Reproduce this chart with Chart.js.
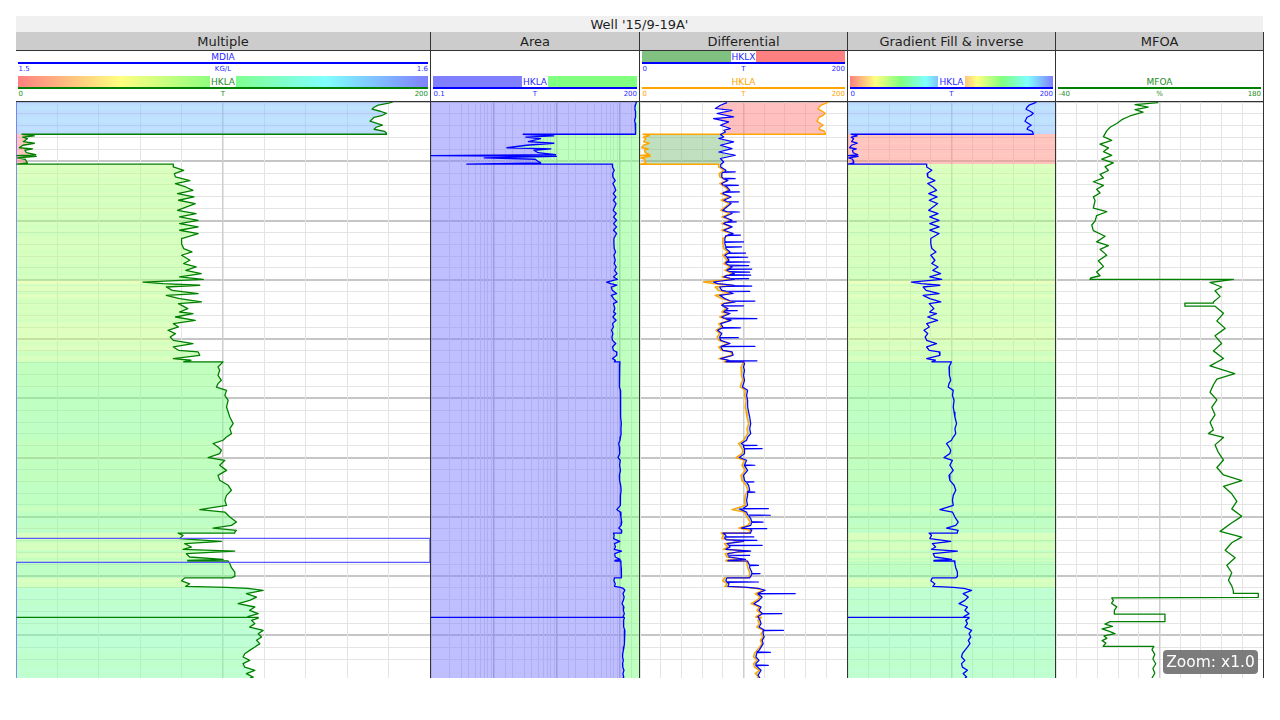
<!DOCTYPE html>
<html>
<head>
<meta charset="utf-8">
<script src="https://cdn.jsdelivr.net/npm/chart.js@4.4.1/dist/chart.umd.min.js"></script>
<style>
html,body{margin:0;padding:0;background:#fff;}
body{width:1280px;height:720px;position:relative;overflow:hidden;font-family:"DejaVu Sans",sans-serif;}
canvas{position:absolute;}
</style>
</head>
<body>
<script>
// ---------------- DATA ----------------
const WELL_TITLE = "Well '15/9-19A'";
const TRACK_TITLES = ['Multiple', 'Area', 'Differential', 'Gradient Fill & inverse', 'MFOA'];

const DEPTH_MIN = 3350, DEPTH_MAX = 3836;   // metres, top / bottom of the log
const DEPTH_MINOR = 10, DEPTH_MAJOR = 50;   // grid spacing

const HKLA_RANGE = [0, 200], HKLA_UNIT = 'T';
const HKLA_LOG_RANGE = [0.1, 200];
const HKLX_RANGE = [0, 200], HKLX_UNIT = 'T';
const MDIA_RANGE = [1.5, 1.6], MDIA_UNIT = 'KG/L';
const MFOA_RANGE = [-40, 180], MFOA_UNIT = '%';

const hklaDepth = [
 3350.0,3351.0,3352.7,3354.4,3356.1,3357.8,3359.5,3361.2,3362.9,3364.6,
 3366.2,3367.9,3369.6,3371.3,3373.0,3374.7,3376.4,3377.2,3377.2,
 3378.5,3379.7,3381.0,3383.5,3384.8,3386.5,3388.6,3389.5,3390.7,3392.8,
 3394.5,3395.2,3395.8,3397.2,3398.3,3400.0,3401.4,3402.5,3402.5,
 3404.8,3407.6,3410.4,3413.2,3416.3,3418.8,3421.7,3424.5,3427.3,3430.1,
 3432.9,3435.7,3441.4,3444.1,3447.0,3449.8,3452.6,3455.4,3458.2,3461.0,
 3465.2,3469.5,3473.7,3476.5,3479.3,3483.5,3486.3,3489.2,3492.0,3494.8,
 3497.6,3499.6,3501.9,3503.2,3504.6,3506.1,3508.9,3511.6,3513.1,3515.9,
 3518.7,3520.1,3524.3,3527.2,3528.5,3531.4,3534.2,3537.0,3539.8,3542.6,
 3545.4,3548.3,3551.1,3553.8,3556.7,3559.5,3560.9,3563.7,3566.5,3567.9,
 3569.2,3569.2,
 3570.7,3573.6,3576.4,3580.6,3584.8,3587.6,3590.5,3593.3,3597.5,3601.7,
 3607.3,3611.6,3615.8,3621.4,3625.6,3629.8,3632.7,3635.4,3638.2,3641.1,
 3643.9,3646.7,3650.0,3652.3,3656.5,3660.8,3665.0,3669.2,3673.4,3677.6,
 3681.9,3686.1,3690.3,3693.9,3696.0,3700.2,3704.4,3707.2,3709.5,3711.4,
 3712.8,3713.7,3713.7,
 3715.6,3718.4,3720.7,3722.6,3725.5,3727.4,3728.9,3731.1,3733.9,3735.9,
 3736.7,3737.3,3737.3,
 3739.5,3742.9,3746.6,3750.3,3751.5,3751.5,3754.0,3756.5,3758.7,3759.5,3760.3,
 3762.0,3764.8,3767.7,3770.5,3773.3,3776.1,3778.9,3781.7,3784.2,3784.8,
 3784.8,3784.8,3785.4,3787.4,3790.1,3793.0,3795.8,3798.6,3801.4,3804.2,
 3807.0,3809.9,3812.7,3815.5,3818.3,3821.1,3823.9,3826.8,3829.5,3832.3,
 3835.2,3836.0
];
const hklaValue = [
 182,180,175,173,172,176,179,177,173,172,
 171,174,177,174,173,178,179,179,2.9,
 8.9,3.2,5.5,3.5,8.9,3.3,1.6,8,4.3,5,
 9.5,0.1,9.8,0.7,4.5,5,5.5,0.37,76,
 76,81,76.5,77,84,77,82,85.5,78,86,
 78.5,86.6,78,87,79,88,79,88,79,88,
 80,80,81,85,80,84,81,87,82,89.5,
 79,90.5,61.3,71,88.8,72.6,75.5,88,72.6,79,
 89.6,78.5,83,79,85.5,77,86.6,76,78.5,73.4,
 77,74.5,76,85.5,76,78.5,88,88.8,76,84.5,
 81,100,
 99.2,97.6,98.4,97.6,99.2,97.6,96.8,101.7,100.9,102.5,
 101.7,102.5,103.3,104.9,103.3,104.1,101.7,100,95.2,97.6,
 99.2,98.4,92.8,100.9,98.4,101.7,97.6,98.4,102.5,104.1,
 101.7,100.9,101.7,88.8,100.9,103.3,106.5,104.1,95.2,106.5,
 105.7,105.7,78.3,
 80.7,79.1,99.2,81.5,84.7,80.7,105.7,82.3,83.9,100,
 83,83,102.5,
 103.3,104.1,105.7,105.7,104.1,81.5,80,83.9,82,101.7,112,
 119.4,111.3,116.2,112.9,107.3,115.4,112.9,117,112,112,
 null,117,117,113.8,115.4,112.9,119.4,117,118.6,116.2,
 117.8,115.4,112.9,110.5,109.7,112.9,109.7,110.5,115.4,111.3,
 114.6,113
];

const hklxDepth = [
 3350.5,3352.7,3355.5,3357.0,3359.7,3362.6,3364.0,3366.8,3369.6,3372.4,
 3373.8,3375.3,3377.5,3379.5,3380.8,3383.7,3386.5,3389.3,3392.2,3394.9,
 3397.7,3400.6,3402.8,
 3404.8,3407.6,3408.7,3409.0,3409.3,3410.4,3413.2,3414.3,3414.6,3414.9,
 3416.3,3418.8,3420.0,3420.3,3420.6,3421.7,3424.5,3425.6,3425.9,3426.2,
 3427.3,3430.1,3432.9,3434.0,3434.3,3434.6,3435.7,3441.4,3442.5,3442.8,
 3443.1,3444.1,3447.0,3449.8,3450.9,3451.2,3451.5,3452.6,3455.4,3458.2,
 3461.0,3462.1,3462.4,3462.7,3465.2,3467.8,3468.1,3468.4,3469.5,3472.0,
 3472.3,3472.6,3473.7,3476.5,3477.2,3477.5,3477.8,3479.3,3480.7,3481.0,
 3481.3,3483.5,3484.7,3485.0,3485.3,3486.3,3487.7,3488.0,3488.3,3489.2,
 3490.7,3491.0,3491.3,3492.0,3493.2,3493.5,3493.8,3494.8,3495.7,3496.0,
 3496.3,3497.6,3498.7,3499.0,3499.3,3499.6,3501.9,3503.2,3504.6,3505.0,
 3505.3,3505.6,3506.1,3508.9,3509.5,3509.8,3510.1,3511.6,3513.1,3515.9,
 3517.7,3518.0,3518.3,3518.7,3520.1,3521.7,3522.0,3522.3,3524.3,3525.7,
 3526.0,3526.3,3527.2,3528.5,3531.4,3532.4,3532.7,3533.0,3534.2,3537.0,
 3539.8,3540.2,3540.5,3540.8,3542.6,3545.4,3548.3,3548.5,3548.8,3549.1,
 3551.1,3553.8,3555.9,3556.2,3556.5,3559.5,3560.9,3563.7,3566.5,3567.9,
 3568.1,3568.4,3568.7,3569.2,3569.2,
 3570.7,3573.6,3576.4,3580.6,3584.8,3587.6,3590.5,3593.3,3597.5,3601.7,
 3607.3,3611.6,3615.8,3621.4,3625.6,3629.8,3632.7,3635.4,3638.2,3639.4,
 3639.7,3640.0,3641.1,3642.2,3642.5,3642.8,3643.9,3646.7,3650.0,3652.3,
 3656.2,3656.5,3656.8,3660.8,3665.0,3669.2,3670.3,3670.6,3670.9,3673.4,
 3677.6,3678.8,3679.1,3679.4,3681.9,3686.1,3690.3,3692.8,3693.1,3693.4,
 3696.0,3698.4,3698.7,3699.0,3700.2,3701.5,3704.1,3704.4,3704.7,3707.2,
 3709.5,3709.7,3710.0,3710.3,3711.4,3712.8,3713.7,3713.7,
 3715.6,3716.6,3716.9,3717.2,3718.4,3719.5,3719.8,3720.1,3720.7,3722.6,
 3723.8,3724.1,3724.4,3725.5,3727.4,3728.9,3729.5,3731.1,3732.2,3732.5,
 3732.8,3733.9,3735.9,3736.7,3737.3,3737.3,
 3739.5,3740.6,3740.9,3741.2,3742.9,3746.6,3747.6,3747.9,3748.2,3750.3,
 3751.5,3751.5,3754.0,3754.7,3755.0,3755.3,3756.5,3758.7,3759.5,3760.3,
 3762.0,3764.5,3764.8,3765.1,3767.7,3770.5,3773.3,3776.1,3778.9,3781.4,
 3781.7,3782.0,3784.2,3787.4,3790.1,3793.0,3795.5,3795.8,3796.1,3798.6,
 3801.4,3804.2,3807.0,3809.9,3812.7,3814.0,3814.3,3814.6,3818.3,3821.1,
 3823.9,3825.0,3825.3,3825.6,3829.5,3833.8,3836.0
];
const hklxValue = [
 84.1,77.7,72.8,88.9,74.4,90.5,71.1,85.7,77.7,87.3,
 80.9,82.5,77.7,80.9,76.1,90.5,77.7,88.9,76.1,92.2,
 77.7,80.9,78,
 78,83,82,92,80,79,79,80,92,81,
 85,79,80,95,82,84,87,83,96,81,
 80,88,81,84,95,86,88,80,84,96,
 87,89,81,89,85,93,83,81,89,81,
 90,85,97,83,82,82,100,82,82,83,
 98,83,83,87,86,102,85,82,84,104,
 84,86,84,106,83,83,86,105,87,89,
 86,108,85,84,87,106,89,91,87,107,
 84,81,87,105,90,91,71,75,91,89,
 108,84,77,79,83,106,85,90,77,82,
 87,111,89,92,81,79,100,80,85,83,
 94,82,81,87,79,81,113,83,88,78,
 80,80,97,79,75,79,77,77,95,77,
 78,87,79,111,78,80,89,90,78,86,
 86,113,84,83,100,
 101,100,101,100,101,100,99,104,103,104,
 104,105,106,107,106,107,104,103,98,100,
 113,100,100,101,118,101,101,101,96,103,
 101,111,101,104,100,101,102,110,103,105,
 106,104,111,104,104,103,104,100,124,96,
 103,104,126,105,106,107,108,119,108,107,
 98,100,122.5,106,108,107,107,80,
 83,83,110,82,82,84,113,90,100,84,
 86,118,86,87,83,107,95,85,85,106,
 86,86,102,85,85,104,
 105,106,114.5,106,106,108,108,116,108,107,
 106,84,83,84,114.5,84,86,85,104,114,
 121,114,150,114,118,115,110,117,115,118,
 137,118,114,116,117,115,120,138.6,119,119,
 120,118,119,117,115,113,126,113,112,115,
 112,112,124,112,117,114,116
];

const mdiaDepth = [3350, 3718.2, 3718.2, 3738.4, 3738.4, 3836];
const mdiaValue = [1.5, 1.5, 1.6, 1.6, 1.5, 1.5];

const mfoaDepth = [
 3350.6,3352.2,3354.4,3356.4,3358.6,3361.8,3364.9,3368.1,3371.3,3374.4,
 3379.2,3382.4,3385.6,3388.7,3391.9,3395.1,3398.2,3401.4,3404.6,3407.8,
 3411.0,3414.1,3417.3,3420.4,3423.6,3426.8,3430.0,3433.2,3439.5,3442.6,
 3445.8,3450.5,3453.8,3458.5,3463.3,3468.0,3471.2,3474.3,3479.2,3483.9,
 3488.7,3493.4,3496.6,3498.5,3499.7,3499.7,3502.3,3506.1,3509.3,3514.0,
 3518.8,3519.7,3519.7,3522.3,3522.3,3528.3,3534.7,3541.0,3547.3,3553.7,
 3560.0,3566.4,3572.7,3579.1,3583.8,3588.6,3594.9,3601.3,3607.6,3613.9,
 3620.3,3626.7,3629.8,3633.0,3639.3,3645.7,3652.1,3658.4,3664.7,3669.5,
 3674.3,3680.6,3686.9,3693.3,3699.6,3706.0,3712.3,3717.1,3721.9,3728.2,
 3734.5,3740.9,3747.2,3753.5,3758.3,3762.5,3764.6,3764.6,3767.9,3768.4,
 3770.5,3773.0,3776.0,3779.0,3782.1,3782.1,3788.4,3788.4,3790.5,3792.5,
 3794.5,3796.5,3798.5,3800.5,3802.5,3804.5,3806.5,3809.3,3809.3,3812.0,
 3816.0,3820.0,3824.0,3828.0,3832.0,3836.0
];
const mfoaValue = [
 68.7,44,58,44,52.5,38.6,30,24.5,17.5,13.9,
 10.4,19.2,6.8,15.7,10.4,19.2,8.6,20.9,12.2,15.7,
 6.8,10.4,-0.3,10.4,3.2,6.8,-0.3,1.5,-0.3,13.9,
 3.2,1.5,-2,-0.3,12.2,3.2,15.7,6.8,13.9,5,
 10.4,3.2,6.8,-3.2,-3.9,148.5,123.7,136,129,134.4,
 127.3,127.3,97,97,129,138,131,139.8,129,136,
 127.3,138,123.7,150,131,127.3,123.7,131,125.5,129,
 123.7,127.3,122,138,129,132.6,138,131,138,157.4,
 138,146.8,152.2,146.8,157.4,145,134.4,157.4,146.8,139.8,
 150.4,141.6,146.8,143.3,146.8,148.5,148.5,175,175,19.2,
 21,19,24.5,22,22,75.8,75.8,17.5,12,20,
 9,16,22.7,11,14,9,13,10,64,62,
 65,63,66,63,65,62
];

// ---------------- STYLE / LAYOUT ----------------
const TRACKS = [
  {left: 16,   right: 430},
  {left: 431,  right: 639},
  {left: 640,  right: 847},
  {left: 848,  right: 1055},
  {left: 1056, right: 1263}
];
const PLOT_TOP = 102, PLOT_H = 576;
const BLUE = '#0000ff', GREEN = '#008000', ORANGE = '#ffa500';
const TXT_BLUE = '#2a2aff', TXT_GREEN = '#1e8c1e';
const RAINBOW_STOPS = [0, 50, 100, 150, 200];
const RAINBOW_RGB = [[255,128,128],[255,255,128],[128,255,128],[128,255,255],[128,128,255]];
const RAINBOW_CSS = 'linear-gradient(to right,#ff8080 0%,#ffff80 25%,#80ff80 50%,#80ffff 75%,#8080ff 100%)';
const RAINBOW2_CSS = 'linear-gradient(to right,#ff8080 0%,#ffff80 12.5%,#80ff80 25%,#80ffff 37.5%,#8080ff 50%,#ff8080 50%,#ffff80 62.5%,#80ff80 75%,#80ffff 87.5%,#8080ff 100%)';

function rainbow(v, a) {
  v = Math.max(RAINBOW_STOPS[0], Math.min(RAINBOW_STOPS[RAINBOW_STOPS.length - 1], v));
  let i = 0;
  while (i < RAINBOW_STOPS.length - 2 && v > RAINBOW_STOPS[i + 1]) i++;
  const t = (v - RAINBOW_STOPS[i]) / (RAINBOW_STOPS[i + 1] - RAINBOW_STOPS[i]);
  const c = RAINBOW_RGB[i].map((c0, k) => Math.round(c0 + t * (RAINBOW_RGB[i + 1][k] - c0)));
  return 'rgba(' + c[0] + ',' + c[1] + ',' + c[2] + ',' + a + ')';
}

function points(depths, values, missing) {
  const out = [];
  for (let i = 0; i < depths.length; i++) {
    let v = values[i];
    if (v === null) { if (missing === undefined) continue; v = missing; }
    out.push({x: v, y: depths[i]});
  }
  return out;
}

function interp(depths, values, d) {
  let pd = null, pv = null;
  for (let i = 0; i < depths.length; i++) {
    if (values[i] === null) continue;
    if (depths[i] >= d) {
      if (pd === null || depths[i] === pd) return values[i];
      return pv + (d - pd) / (depths[i] - pd) * (values[i] - pv);
    }
    pd = depths[i]; pv = values[i];
  }
  return pv;
}

// vertical gradient whose colour at every sample depth is given by colorOf(value, depth)
function depthGradient(chart, depths, values, colorOf) {
  const area = chart.chartArea;
  if (!area) return 'rgba(0,0,0,0)';
  const ys = chart.scales.y;
  const h = area.bottom - area.top;
  const g = chart.ctx.createLinearGradient(0, area.top, 0, area.bottom);
  for (let i = 0; i < depths.length; i++) {
    if (values[i] === null) continue;
    let o = (ys.getPixelForValue(depths[i]) - area.top) / h;
    o = Math.min(1, Math.max(0, o));
    g.addColorStop(o, colorOf(values[i], depths[i]));
  }
  return g;
}

function isMultiple(v, step) { const r = v / step; return Math.abs(r - Math.round(r)) < 1e-6; }

function depthScale() {
  return {
    type: 'linear', reverse: true, min: DEPTH_MIN, max: DEPTH_MAX,
    border: {display: false},
    ticks: {display: false, stepSize: DEPTH_MINOR, maxTicksLimit: 1000},
    grid: {
      drawTicks: false,
      color: c => isMultiple(c.tick.value, DEPTH_MAJOR) ? '#c6c6c6' : '#e4e4e4',
      lineWidth: c => isMultiple(c.tick.value, DEPTH_MAJOR) ? 2 : 1
    }
  };
}
function linearScale(range) {
  const mid = (range[0] + range[1]) / 2;
  return {
    type: 'linear', position: 'top', min: range[0], max: range[1],
    border: {display: false},
    ticks: {display: false, stepSize: (range[1] - range[0]) / 10},
    grid: {
      drawTicks: false,
      color: c => Math.abs(c.tick.value - mid) < 1e-6 ? '#cdcdcd' : '#e4e4e4',
      lineWidth: c => Math.abs(c.tick.value - mid) < 1e-6 ? 1.5 : 1
    }
  };
}
function logScale(range) {
  return {
    type: 'logarithmic', position: 'top', min: range[0], max: range[1],
    border: {display: false},
    ticks: {display: false},
    grid: {
      drawTicks: false,
      color: c => { const l = Math.log10(c.tick.value); return Math.abs(l - Math.round(l)) < 1e-6 ? '#b9b9c9' : '#dcdce4'; },
      lineWidth: c => { const l = Math.log10(c.tick.value); return Math.abs(l - Math.round(l)) < 1e-6 ? 1.5 : 1; }
    }
  };
}

function el(css, text) {
  const e = document.createElement('div');
  e.style.cssText = 'position:absolute;box-sizing:border-box;' + css;
  if (text !== undefined) e.textContent = text;
  document.body.appendChild(e);
  return e;
}

function makeChart(trackIndex, scales, datasets) {
  const t = TRACKS[trackIndex];
  const cv = document.createElement('canvas');
  cv.width = t.right - t.left; cv.height = PLOT_H;
  cv.style.left = t.left + 'px'; cv.style.top = PLOT_TOP + 'px';
  document.body.appendChild(cv);
  return new Chart(cv, {
    type: 'line',
    data: {datasets},
    options: {
      responsive: false, animation: false, events: [], indexAxis: 'y',
      layout: {padding: 0},
      plugins: {legend: {display: false}, tooltip: {enabled: false}},
      elements: {point: {radius: 0, hoverRadius: 0}, line: {tension: 0, borderJoinStyle: 'round'}},
      scales: Object.assign({y: depthScale()}, scales)
    }
  });
}

// ---------------- TRACKS ----------------
// 1. Multiple
makeChart(0, {
  x: linearScale(HKLA_RANGE),
  x2: {type: 'linear', display: false, min: MDIA_RANGE[0], max: MDIA_RANGE[1]}
}, [
  {label: 'MDIA', xAxisID: 'x2', data: points(mdiaDepth, mdiaValue), borderColor: '#5a5aff', borderWidth: 1.3, fill: false},
  {label: 'HKLA', xAxisID: 'x', data: points(hklaDepth, hklaValue, HKLA_RANGE[0]), borderColor: GREEN, borderWidth: 1.3,
   fill: {value: HKLA_RANGE[0]},
   backgroundColor: c => depthGradient(c.chart, hklaDepth, hklaValue, v => rainbow(v, 0.5))}
]);

// 2. Area (log)
makeChart(1, {x: logScale(HKLA_LOG_RANGE)}, [
  {label: 'HKLA', data: points(hklaDepth, hklaValue, HKLA_LOG_RANGE[0]), borderColor: BLUE, borderWidth: 1.3,
   fill: {value: HKLA_LOG_RANGE[0]}, backgroundColor: 'rgba(128,128,255,0.5)'},
  {label: 'HKLA right', data: points(hklaDepth, hklaValue, HKLA_LOG_RANGE[0]), borderWidth: 0, borderColor: 'rgba(0,0,0,0)',
   fill: {value: HKLA_LOG_RANGE[1]}, backgroundColor: 'rgba(128,255,128,0.5)'}
]);

// 3. Differential
makeChart(2, {x: linearScale(HKLX_RANGE)}, [
  {label: 'HKLX', data: points(hklxDepth, hklxValue), borderColor: BLUE, borderWidth: 1.2, fill: false},
  {label: 'HKLA', data: points(hklaDepth, hklaValue), borderColor: ORANGE, borderWidth: 1.4, fill: '-1',
   backgroundColor: c => depthGradient(c.chart, hklaDepth, hklaValue,
     (v, d) => v > interp(hklxDepth, hklxValue, d) ? 'rgba(255,128,128,0.5)' : 'rgba(128,192,128,0.5)')}
]);

// 4. Gradient fill & inverse
makeChart(3, {x: linearScale(HKLA_RANGE)}, [
  {label: 'HKLA', data: points(hklaDepth, hklaValue, HKLA_RANGE[0]), borderColor: BLUE, borderWidth: 1.3,
   fill: {value: HKLA_RANGE[0]},
   backgroundColor: c => depthGradient(c.chart, hklaDepth, hklaValue, v => rainbow(v, 0.5))},
  {label: 'HKLA inverse', data: points(hklaDepth, hklaValue, HKLA_RANGE[0]), borderWidth: 0, borderColor: 'rgba(0,0,0,0)',
   fill: {value: HKLA_RANGE[1]},
   backgroundColor: c => depthGradient(c.chart, hklaDepth, hklaValue, v => rainbow(v, 0.5))}
]);

// 5. MFOA
makeChart(4, {x: linearScale(MFOA_RANGE)}, [
  {label: 'MFOA', data: points(mfoaDepth, mfoaValue), borderColor: GREEN, borderWidth: 1.3, fill: false}
]);

// ---------------- HEADER ----------------
el('left:16px;top:16px;width:1247px;height:16px;background:#f0f0f0;font-size:13px;line-height:17px;text-align:center;color:#1e1e1e;', WELL_TITLE);
TRACKS.forEach((t, i) => {
  el('left:' + t.left + 'px;top:32px;width:' + (t.right - t.left) + 'px;height:18px;background:#cccccc;font-size:13px;line-height:19px;text-align:center;color:#1e1e1e;white-space:nowrap;', TRACK_TITLES[i]);
});

const SLOTS = [{bar: 51, line: 62, lab: 64.5}, {bar: 76, line: 87, lab: 89.5}];
const LEGENDS = [
  {track: 0, slot: 0, name: 'MDIA', color: TXT_BLUE, line: BLUE, range: MDIA_RANGE, unit: MDIA_UNIT},
  {track: 0, slot: 1, name: 'HKLA', color: TXT_GREEN, line: GREEN, bar: RAINBOW_CSS, boxed: true, range: HKLA_RANGE, unit: HKLA_UNIT},
  {track: 1, slot: 1, name: 'HKLA', color: TXT_BLUE, line: BLUE, bar: 'linear-gradient(to right,#8080ff 50%,#80ff80 50%)', boxed: true, range: HKLA_LOG_RANGE, unit: HKLA_UNIT},
  {track: 2, slot: 0, name: 'HKLX', color: TXT_BLUE, line: BLUE, bar: 'linear-gradient(to right,#80c080 50%,#ff8080 50%)', boxed: true, range: HKLX_RANGE, unit: HKLX_UNIT},
  {track: 2, slot: 1, name: 'HKLA', color: ORANGE, line: ORANGE, range: HKLA_RANGE, unit: HKLA_UNIT},
  {track: 3, slot: 1, name: 'HKLA', color: TXT_BLUE, line: BLUE, bar: RAINBOW2_CSS, boxed: true, range: HKLA_RANGE, unit: HKLA_UNIT},
  {track: 4, slot: 1, name: 'MFOA', color: TXT_GREEN, line: GREEN, range: MFOA_RANGE, unit: MFOA_UNIT}
];
LEGENDS.forEach(L => {
  const t = TRACKS[L.track], s = SLOTS[L.slot];
  const x0 = t.left + 2, w = t.right - t.left - 4;
  if (L.bar) el('left:' + x0 + 'px;top:' + s.bar + 'px;width:' + w + 'px;height:11px;background:' + L.bar + ';');
  const nm = el('left:' + x0 + 'px;top:' + s.bar + 'px;width:' + w + 'px;height:11px;text-align:center;font-size:9px;line-height:12px;white-space:nowrap;');
  const sp = document.createElement('span');
  sp.textContent = L.name;
  sp.style.cssText = 'color:' + L.color + ';display:inline-block;height:11px;padding:0 1px;' + (L.boxed ? 'background:#fff;' : '');
  nm.appendChild(sp);
  el('left:' + x0 + 'px;top:' + s.line + 'px;width:' + w + 'px;height:2px;background:' + L.line + ';');
  const lab = 'top:' + s.lab + 'px;height:8px;font-size:7px;line-height:8px;white-space:nowrap;color:' + L.color + ';';
  el('left:' + (x0 + 0.5) + 'px;' + lab, String(L.range[0]));
  el('left:' + x0 + 'px;width:' + w + 'px;text-align:center;' + lab, L.unit);
  el('left:' + x0 + 'px;width:' + w + 'px;text-align:right;' + lab, String(L.range[1]));
});

// frame lines
[430, 639, 847, 1055, 1263].forEach(x => el('left:' + x + 'px;top:32px;width:1px;height:646px;background:#333;'));
el('left:16px;top:50px;width:1248px;height:1px;background:#333;');
el('left:16px;top:101px;width:1248px;height:1px;background:#333;');

// zoom badge
el('left:1163px;top:650px;width:95px;height:24px;background:rgba(110,110,110,0.9);border-radius:4px;color:#fff;font-size:15.5px;line-height:24px;text-align:center;white-space:nowrap;', 'Zoom: x1.0');
</script>
</body>
</html>
